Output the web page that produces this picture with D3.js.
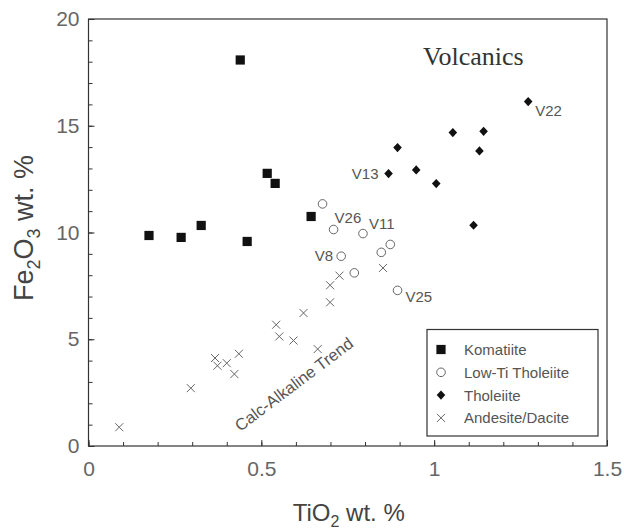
<!DOCTYPE html>
<html>
<head>
<meta charset="utf-8">
<script src="https://cdn.jsdelivr.net/npm/d3@7"></script>
<style>
  html, body { margin: 0; padding: 0; background: #fff; }
  svg { display: block; }
  text { font-family: "Liberation Sans", Arial, Helvetica, sans-serif; }
  text.serif { font-family: "Liberation Serif", "Times New Roman", serif; }
</style>
</head>
<body>
<svg id="chart" width="624" height="529"></svg>
<script>
// ---- data ----
const komatiiteTi = [0.175, 0.268, 0.326, 0.439, 0.459, 0.517, 0.540, 0.644];
const komatiiteFe = [9.86, 9.77, 10.33, 18.08, 9.58, 12.77, 12.30, 10.75];

const lowTiTi = [0.677, 0.709, 0.731, 0.769, 0.794, 0.847, 0.873, 0.894];
const lowTiFe = [11.34, 10.14, 8.89, 8.11, 9.95, 9.07, 9.44, 7.29];

const tholeiiteTi = [0.868, 0.894, 0.948, 1.006, 1.054, 1.114, 1.131, 1.143, 1.272];
const tholeiiteFe = [12.76, 13.98, 12.93, 12.29, 14.68, 10.34, 13.82, 14.74, 16.13];

const andesiteTi = [0.089, 0.296, 0.366, 0.373, 0.400, 0.422, 0.435, 0.543, 0.552, 0.593, 0.622, 0.663, 0.699, 0.699, 0.726, 0.852];
const andesiteFe = [0.88, 2.71, 4.12, 3.76, 3.88, 3.37, 4.32, 5.68, 5.13, 4.94, 6.23, 4.54, 6.73, 7.53, 7.98, 8.34];

const seriesNames = ["Komatiite", "Low-Ti Tholeiite", "Tholeiite", "Andesite/Dacite"];

// sample labels: series, index in series
const sampleLabels = ["V26", "V11", "V8", "V25", "V13", "V22"];
const sampleSeries = ["Low-Ti Tholeiite", "Low-Ti Tholeiite", "Low-Ti Tholeiite", "Low-Ti Tholeiite", "Tholeiite", "Tholeiite"];
const sampleIndex = [1, 4, 2, 7, 0, 8];

const xTickValues = [0, 0.5, 1, 1.5];
const xTickLabels = ["0", "0.5", "1", "1.5"];
const yTickValues = [0, 5, 10, 15, 20];
const yTickLabels = ["0", "5", "10", "15", "20"];

const trendLabel = "Calc-Alkaline Trend";
const trendTi = 0.439, trendFe = 0.66;
const titleText = "Volcanics";

// ---- layout ----
const svg = d3.select("#chart");
const L = 88.5, R = 607, T = 19, B = 446;
const x = d3.scaleLinear().domain([0, 1.5]).range([L, R]);
const y = d3.scaleLinear().domain([0, 20]).range([B, T]);

const frameColor = "#333";
const tickTextColor = "#666";
const labelColor = "#555";

// minor ticks
const xMinor = d3.range(0, 1.5001, 0.1).map(v => +v.toFixed(2));
const yMinor = d3.range(0, 20.001, 1);

svg.append("g").attr("transform", `translate(0,${B})`)
  .call(d3.axisBottom(x).tickValues(xMinor).tickSize(-4).tickFormat(""))
  .call(g => g.select(".domain").remove())
  .selectAll("line").attr("stroke", frameColor);
svg.append("g").attr("transform", `translate(${L},0)`)
  .call(d3.axisLeft(y).tickValues(yMinor).tickSize(-4).tickFormat(""))
  .call(g => g.select(".domain").remove())
  .selectAll("line").attr("stroke", frameColor);

// major ticks + labels
const gx = svg.append("g").attr("transform", `translate(0,${B})`)
  .call(d3.axisBottom(x).tickValues(xTickValues).tickSize(-6).tickPadding(15)
    .tickFormat((d, i) => xTickLabels[i]));
gx.select(".domain").remove();
gx.selectAll("line").attr("stroke", frameColor);
gx.selectAll("text").attr("font-size", 21).attr("fill", tickTextColor);

const gy = svg.append("g").attr("transform", `translate(${L},0)`)
  .call(d3.axisLeft(y).tickValues(yTickValues).tickSize(-6).tickPadding(9)
    .tickFormat((d, i) => yTickLabels[i]));
gy.select(".domain").remove();
gy.selectAll("line").attr("stroke", frameColor);
gy.selectAll("text").attr("font-size", 21).attr("fill", tickTextColor);

// frame
svg.append("rect").attr("x", L).attr("y", T).attr("width", R - L).attr("height", B - T)
  .attr("fill", "none").attr("stroke", frameColor).attr("stroke-width", 1.2);

// axis titles
const xt = svg.append("text").attr("x", (L + R) / 2 + 1).attr("y", 521)
  .attr("text-anchor", "middle").attr("font-size", 24).attr("fill", "#444");
xt.append("tspan").text("TiO");
xt.append("tspan").text("2").attr("font-size", 16).attr("dy", 6);
xt.append("tspan").text(" wt. %").attr("dy", -6);

const yt = svg.append("text").attr("transform", `translate(33,228) rotate(-90)`)
  .attr("text-anchor", "middle").attr("font-size", 27).attr("fill", "#444");
yt.append("tspan").text("Fe");
yt.append("tspan").text("2").attr("font-size", 18).attr("dy", 7);
yt.append("tspan").text("O").attr("dy", -7);
yt.append("tspan").text("3").attr("font-size", 18).attr("dy", 7);
yt.append("tspan").text(" wt. %").attr("dy", -7);

// title
svg.append("text").attr("class", "serif").attr("x", 423).attr("y", 65).text(titleText)
  .attr("font-size", 26).attr("fill", "#333");

// ---- symbols ----
const symbolDraw = {
  "Komatiite": (g) => g.append("rect").attr("x", -4.6).attr("y", -4.6).attr("width", 9.2).attr("height", 9.2).attr("fill", "#111"),
  "Low-Ti Tholeiite": (g) => g.append("circle").attr("r", 4.3).attr("fill", "#fff").attr("stroke", "#666").attr("stroke-width", 1),
  "Tholeiite": (g) => g.append("path").attr("d", "M0,-4.6L4.3,0L0,4.6L-4.3,0Z").attr("fill", "#111"),
  "Andesite/Dacite": (g) => g.append("path").attr("d", "M-4,-4L4,4M-4,4L4,-4").attr("stroke", "#666").attr("stroke-width", 1).attr("fill", "none")
};

const seriesData = {
  "Komatiite": komatiiteTi.map((t, i) => [t, komatiiteFe[i]]),
  "Low-Ti Tholeiite": lowTiTi.map((t, i) => [t, lowTiFe[i]]),
  "Tholeiite": tholeiiteTi.map((t, i) => [t, tholeiiteFe[i]]),
  "Andesite/Dacite": andesiteTi.map((t, i) => [t, andesiteFe[i]])
};

["Andesite/Dacite", "Low-Ti Tholeiite", "Komatiite", "Tholeiite"].forEach(name => {
  svg.append("g").selectAll("g").data(seriesData[name]).join("g")
    .attr("transform", d => `translate(${x(d[0])},${y(d[1])})`)
    .each(function () { symbolDraw[name](d3.select(this)); });
});

// sample labels (offsets from their point)
const labelOffsets = {
  "V26": [1, -7, "start"], "V11": [6, -5, "start"], "V8": [-8, 5, "end"],
  "V25": [8, 12, "start"], "V13": [-10, 5, "end"], "V22": [7, 14, "start"]
};
sampleLabels.forEach((lab, i) => {
  const p = seriesData[sampleSeries[i]][sampleIndex[i]];
  const o = labelOffsets[lab];
  svg.append("text").attr("x", x(p[0]) + o[0]).attr("y", y(p[1]) + o[1])
    .attr("text-anchor", o[2]).attr("font-size", 15).attr("fill", labelColor).text(lab);
});

// trend label
svg.append("text")
  .attr("transform", `translate(${x(trendTi)},${y(trendFe)}) rotate(-37)`)
  .attr("font-size", 16.5).attr("fill", labelColor).text(trendLabel);

// ---- legend ----
const lg = svg.append("g");
lg.append("rect").attr("x", 427).attr("y", 329.5).attr("width", 171).attr("height", 106.5)
  .attr("fill", "#fff").attr("stroke", frameColor).attr("stroke-width", 1.2);
seriesNames.forEach((name, i) => {
  const ry = 349.5 + i * 22.8;
  const g = lg.append("g").attr("transform", `translate(441,${ry})`);
  symbolDraw[name](g);
  lg.append("text").attr("x", 464).attr("y", ry + 5.5).attr("font-size", 15)
    .attr("fill", labelColor).text(name);
});
</script>
</body>
</html>
